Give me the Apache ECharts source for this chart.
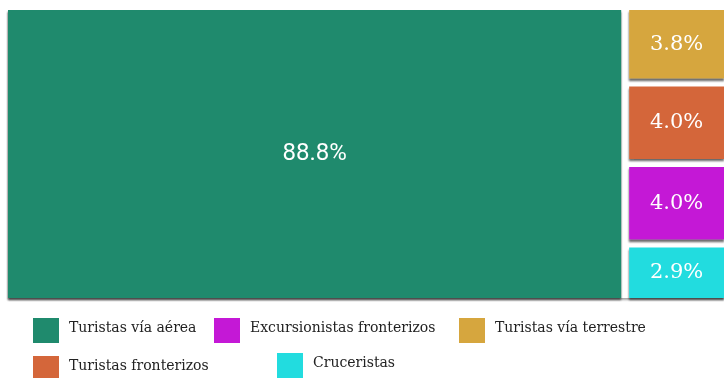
<!DOCTYPE html>
<html>
<head>
<meta charset="utf-8">
<script src="https://cdn.jsdelivr.net/npm/echarts@6/dist/echarts.min.js"></script>
<style>
  html, body { margin: 0; padding: 0; background: #ffffff; }
  #chart { width: 724px; height: 378px; }
</style>
</head>
<body>
<div id="chart"></div>
<script>
// Visitor types and their share (%)
const categories = [
  'Turistas vía aérea',
  'Excursionistas fronterizos',
  'Turistas vía terrestre',
  'Turistas fronterizos',
  'Cruceristas'
];
const shares = [88.8, 4.0, 3.8, 4.0, 2.9];
const colors = ['#1f8a6d', '#c418d6', '#d6a63e', '#d4663a', '#22dcdf'];

// Order in which the blocks are packed into the treemap
const blockOrder = [0, 2, 3, 1, 4];

// Legend slots (icon top-left corners) laid out in two rows
const legendSlots = [[33, 318], [214, 318], [459, 318], [33, 356], [277, 353]];

const serifFont = 'DejaVu Serif';

const treeData = blockOrder.map(i => ({
  name: categories[i],
  value: shares[i],
  itemStyle: { color: colors[i] },
  label: i === 0
    ? { fontFamily: 'Roboto', fontSize: 24 }
    : { fontFamily: serifFont, fontSize: 21 }
}));

const legendGraphics = [];
categories.forEach((name, i) => {
  const [x, y] = legendSlots[i];
  legendGraphics.push({
    type: 'rect',
    shape: { x: x, y: y, width: 26, height: 25 },
    style: { fill: colors[i] }
  });
  legendGraphics.push({
    type: 'text',
    style: {
      text: name,
      x: x + 36,
      y: y + 10,
      verticalAlign: 'middle',
      fill: '#222222',
      font: '14px "' + serifFont + '"'
    }
  });
});

const chart = echarts.init(document.getElementById('chart'));
chart.setOption({
  backgroundColor: '#ffffff',
  animation: false,
  series: [{
    type: 'treemap',
    left: 8,
    top: 10,
    width: 716,
    height: 288,
    roam: false,
    nodeClick: false,
    sort: false,
    squareRatio: 1,
    breadcrumb: { show: false },
    emphasis: { disabled: true },
    label: {
      show: true,
      position: 'inside',
      align: 'center',
      verticalAlign: 'middle',
      color: '#ffffff',
      overflow: 'none',
      formatter: p => p.value.toFixed(1) + '%'
    },
    itemStyle: {
      borderWidth: 0,
      shadowColor: 'rgba(0,0,0,0.35)',
      shadowBlur: 2,
      shadowOffsetY: 2
    },
    levels: [
      { itemStyle: { gapWidth: 8, borderWidth: 0 } },
      {}
    ],
    data: treeData
  }],
  graphic: legendGraphics
});
</script>
</body>
</html>
